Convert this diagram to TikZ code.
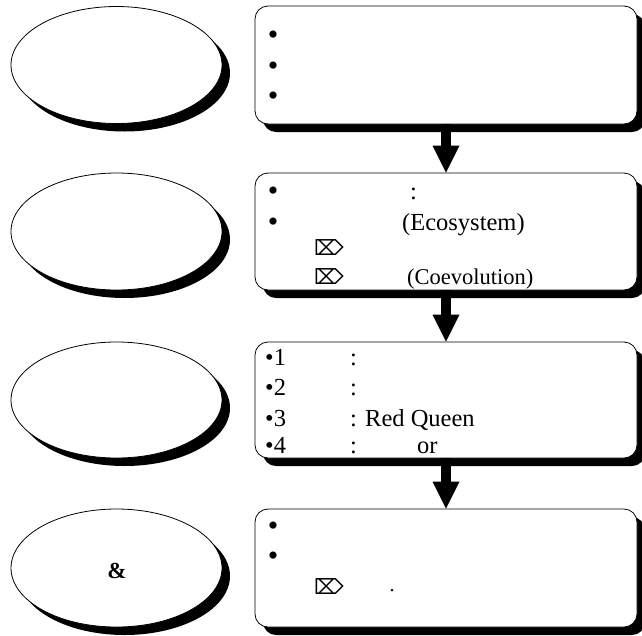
\documentclass[tikz,border=0pt]{standalone}
\usepackage{fontspec}
\setmainfont{Liberation Serif}
\newfontfamily\symfont{DejaVu Sans}
\usetikzlibrary{shadows,arrows.meta,shapes.geometric}
\newcommand{\bigdot}{{\fontsize{30}{30}\selectfont\raisebox{-1.5pt}{•}}}
\begin{document}
\begin{tikzpicture}[x=1pt,y=-1pt,
  shad/.style={drop shadow={shadow xshift=8pt,shadow yshift=-8pt,fill=black,opacity=1}},
  oval/.style={ellipse,draw=black,line width=0.8pt,fill=white,shad,minimum width=211pt,inner sep=0pt},
  panel/.style={rectangle,rounded corners=13pt,draw=black,line width=0.8pt,fill=white,shad,minimum width=382pt,inner sep=0pt},
  txt/.style={inner sep=0pt,anchor=base west,font=\fontsize{24.5}{28}\selectfont},
  bul/.style={inner sep=0pt,anchor=base,font=\fontsize{24}{28}\selectfont},
  sym/.style={inner sep=0pt,anchor=center,font=\symfont\fontsize{21}{24}\selectfont},
  flow/.style={line width=10pt,-{Triangle[width=27pt,length=27pt,line width=0pt]}}]
\useasboundingbox (0,0) rectangle (642,635);
% ovals
\node[oval,minimum height=117pt] (e1) at (116.5,65) {};
\node[oval,minimum height=117pt] (e2) at (116.5,231.5) {};
\node[oval,minimum height=116pt] (e3) at (116.5,400) {};
\node[oval,minimum height=118pt] (e4) at (116.5,568) {};
\node[inner sep=0pt,anchor=base,font=\bfseries\fontsize{23}{27}\selectfont] (amp) at (117,578) {\&};
% panels
\node[panel,minimum height=118pt] (b1) at (446,65) {};
\node[panel,minimum height=117pt] (b2) at (446,231.5) {};
\node[panel,minimum height=116pt] (b3) at (446,400) {};
\node[panel,minimum height=118pt] (b4) at (446,568) {};
% arrows
\draw[flow] (b1.south) -- (b2.north);
\draw[flow] (b2.south) -- (b3.north);
\draw[flow] (b3.south) -- (b4.north);
% panel 1
\node[bul] (p1a) at (273,43) {\bigdot};
\node[bul] (p1b) at (273,74) {\bigdot};
\node[bul] (p1c) at (273,104) {\bigdot};
% panel 2
\node[bul] (p2a) at (273,199) {\bigdot};
\node[txt] (p2ac) at (410,199) {:};
\node[bul] (p2b) at (273,230) {\bigdot};
\node[txt] (p2bt) at (402,230) {(Ecosystem)};
\node[sym] (p2c) at (329,248) {⌦};
\node[sym] (p2d) at (329,277) {⌦};
\node[txt,font=\fontsize{22.5}{26}\selectfont] (p2dt) at (407,284) {(Coevolution)};
% panel 3
\node[txt] (p3a) at (265,365) {•1};
\node[txt] (p3ac) at (350,365) {:};
\node[txt] (p3b) at (265,395) {•2};
\node[txt] (p3bc) at (350,395) {:};
\node[txt] (p3c) at (265,426) {•3};
\node[txt] (p3ct) at (350,426) {: Red Queen};
\node[txt] (p3d) at (265,453) {•4};
\node[txt] (p3dc) at (350,453) {:};
\node[txt] (p3dt) at (417,453) {or};
% panel 4
\node[bul] (p4a) at (273,534) {\bigdot};
\node[bul] (p4b) at (273,564) {\bigdot};
\node[sym] (p4c) at (329,587) {⌦};
\node[bul,font=\fontsize{20}{22}\selectfont] (p4d) at (392,591) {.};
\end{tikzpicture}
\end{document}
